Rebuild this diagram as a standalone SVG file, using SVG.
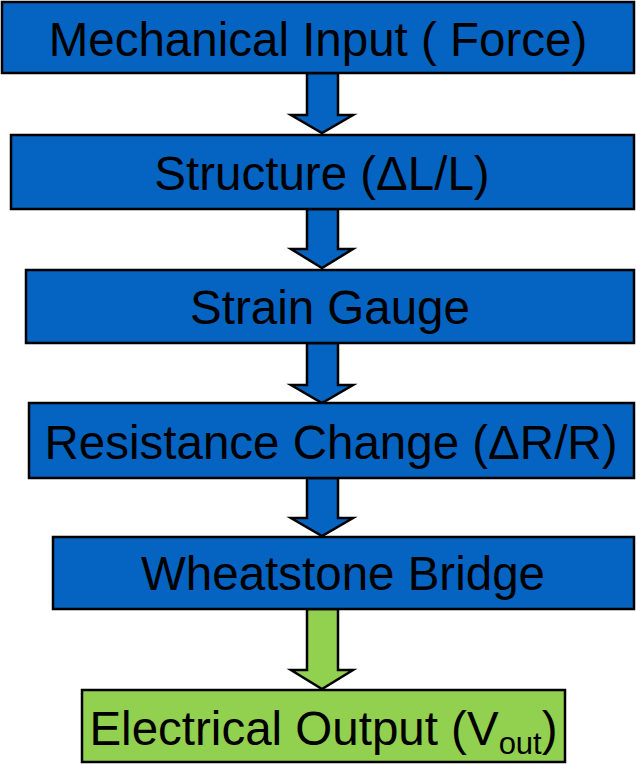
<svg xmlns="http://www.w3.org/2000/svg" width="636" height="764" viewBox="0 0 636 764">
<style>
.box{stroke:#000;stroke-width:2.5}
.blue{fill:#0563C1}
.green{fill:#92D050}
.lbl{font-family:"Liberation Sans",Arial,sans-serif;font-size:47.5px;fill:#000;text-anchor:middle}
.arr{stroke:#000;stroke-width:2.5;stroke-linejoin:miter}
</style>
<rect width="636" height="764" fill="#fff"/>
<g id="connectors">
<path class="arr blue" d="M307,73 L338,73 L338,115 L353,115 L322,133 L291,115 L307,115 Z"/>
<path class="arr blue" d="M307,209 L338,209 L338,249 L353,249 L322,268 L291,249 L307,249 Z"/>
<path class="arr blue" d="M307,343 L338,343 L338,385 L353,385 L322,403 L291,385 L307,385 Z"/>
<path class="arr blue" d="M307,478 L338,478 L338,518 L353,518 L322,536 L291,518 L307,518 Z"/>
<path class="arr green" d="M307,609 L338,609 L338,670 L353,670 L322,689 L291,670 L307,670 Z"/>
</g>
<g id="n1"><rect class="box blue" x="2" y="2" width="632" height="71"/><text class="lbl" x="318" y="56">Mechanical Input ( Force)</text></g>
<g id="n2"><rect class="box blue" x="11" y="135" width="623" height="74"/><text class="lbl" x="322" y="190">Structure (ΔL/L)</text></g>
<g id="n3"><rect class="box blue" x="26" y="270" width="608" height="73"/><text class="lbl" x="330" y="324">Strain Gauge</text></g>
<g id="n4"><rect class="box blue" x="29" y="403" width="605" height="75"/><text class="lbl" x="331" y="459">Resistance Change (ΔR/R)</text></g>
<g id="n5"><rect class="box blue" x="53" y="537" width="581" height="72"/><text class="lbl" x="343" y="590">Wheatstone Bridge</text></g>
<g id="n6"><rect class="box green" x="82" y="690" width="483" height="72"/><text class="lbl" x="323.5" y="745">Electrical Output (V<tspan font-size="31" dy="9">out</tspan><tspan dy="-9">)</tspan></text></g>
</svg>
